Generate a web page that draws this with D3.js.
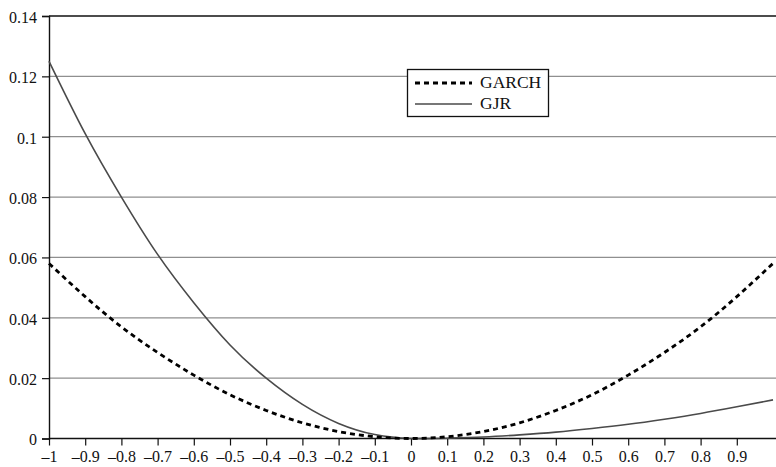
<!DOCTYPE html>
<html><head><meta charset="utf-8">
<script src="https://cdn.jsdelivr.net/npm/d3@7"></script>
<style>body{margin:0;background:#fff}svg{display:block}svg text{font-family:'Liberation Serif','Times New Roman',Times,serif}</style>
</head><body>
<script>
const xValues = [-1,-0.9,-0.8,-0.7,-0.6,-0.5,-0.4,-0.3,-0.2,-0.1,0,0.1,0.2,0.3,0.4,0.5,0.6,0.7,0.8,0.9,1];
const garch = [0.058,0.047,0.037,0.0285,0.021,0.0145,0.0093,0.0052,0.0023,0.0006,0,0.0006,0.0023,0.0052,0.0093,0.0145,0.021,0.0285,0.037,0.047,0.058];
const gjr = [0.125,0.101,0.080,0.061,0.045,0.031,0.020,0.0113,0.005,0.0013,0,0.0001,0.0005,0.0012,0.0021,0.0033,0.0047,0.0064,0.0083,0.0105,0.0128];
const xTicks = [-1,-0.9,-0.8,-0.7,-0.6,-0.5,-0.4,-0.3,-0.2,-0.1,0,0.1,0.2,0.3,0.4,0.5,0.6,0.7,0.8,0.9];
const yTicks = [0,0.02,0.04,0.06,0.08,0.1,0.12,0.14];
const seriesNames = ["GARCH","GJR"];

const W=776,H=467;
const svg=d3.select("body").append("svg").attr("width",W).attr("height",H);
const x=d3.scaleLinear().domain([-1,1]).range([49,773]);
const y=d3.scaleLinear().domain([0,0.14]).range([438.5,16]);

// gridlines
svg.append("g").selectAll("line").data(yTicks.filter(d=>d>0&&d<0.14)).join("line")
  .attr("x1",x(-1)).attr("x2",W).attr("y1",d=>y(d)).attr("y2",d=>y(d))
  .attr("stroke","#8f8f8f").attr("stroke-width",1.2);
// top line
svg.append("line").attr("x1",x(-1)).attr("x2",W).attr("y1",y(0.14)).attr("y2",y(0.14))
  .attr("stroke","#111").attr("stroke-width",1.4);

const fmtY=d=>d===0?"0":String(+d.toFixed(2));
const fmtX=d=>d===0?"0":(d<0?"\u2013"+String(+(-d).toFixed(1)):String(+d.toFixed(1)));

const yAxis=d3.axisLeft(y).tickValues(yTicks).tickFormat(fmtY).tickSize(7).tickPadding(5);
const gy=svg.append("g").attr("transform",`translate(${x(-1)},0)`).call(yAxis);
gy.select(".domain").attr("stroke","#111").attr("stroke-width",1.4);
gy.selectAll(".tick line").attr("stroke","#111").attr("stroke-width",1.2);
gy.selectAll("text").attr("font-size",16).attr("fill","#111").attr("dy","0.4em");

const xAxis=d3.axisBottom(x).tickValues(xTicks).tickFormat(fmtX).tickSize(7).tickSizeOuter(0).tickPadding(5);
const gx=svg.append("g").attr("transform",`translate(0,${y(0)})`).call(xAxis);
gx.select(".domain").attr("stroke","#111").attr("stroke-width",1.4).attr("d",`M${x(-1)},0H${W}`);
gx.selectAll(".tick line").attr("stroke","#111").attr("stroke-width",1.2);
gx.selectAll("text").attr("font-size",16).attr("fill","#111").attr("dy","0.7em");

const line=d3.line().x((d,i)=>x(xValues[i])).y(d=>y(d)).curve(d3.curveNatural);
svg.append("path").datum(gjr).attr("d",line).attr("fill","none")
  .attr("stroke","#4a4a4a").attr("stroke-width",1.6);
svg.append("path").datum(garch).attr("d",line).attr("fill","none")
  .attr("stroke","#000").attr("stroke-width",2.8).attr("stroke-dasharray","5,4");

// legend
const lg=svg.append("g");
lg.append("rect").attr("x",407.5).attr("y",69.5).attr("width",141).attr("height",47)
  .attr("fill","#fff").attr("stroke","#111").attr("stroke-width",1.3);
lg.append("line").attr("x1",415).attr("x2",472).attr("y1",83).attr("y2",83)
  .attr("stroke","#000").attr("stroke-width",2.8).attr("stroke-dasharray","5,4");
lg.append("line").attr("x1",415).attr("x2",472).attr("y1",104).attr("y2",104)
  .attr("stroke","#4a4a4a").attr("stroke-width",1.6);
lg.append("text").attr("x",480).attr("y",88).attr("font-size",17.5).attr("fill","#111").text(seriesNames[0]);
lg.append("text").attr("x",480).attr("y",109).attr("font-size",17.5).attr("fill","#111").text(seriesNames[1]);
</script>
</body></html>
